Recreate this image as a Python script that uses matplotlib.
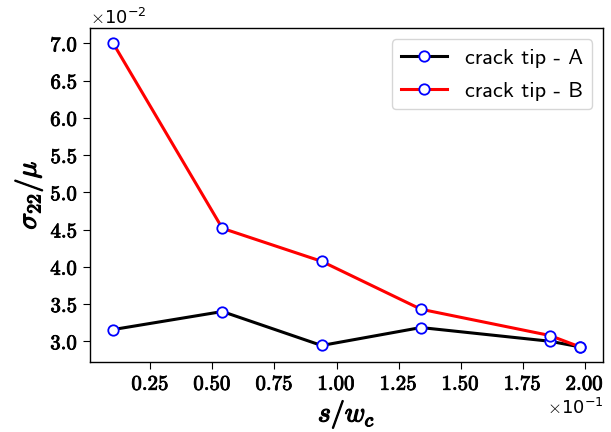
import matplotlib
matplotlib.use("Agg")
import matplotlib.pyplot as plt
import matplotlib.patheffects as pe
from matplotlib.ticker import ScalarFormatter, MultipleLocator

plt.rcParams['mathtext.fontset'] = 'cm'

# s / w_c and sigma_22 / mu at both crack tips
s_wc = [0.010, 0.054, 0.094, 0.134, 0.186, 0.198]
tip_a = [0.03157, 0.03399, 0.02943, 0.03184, 0.03000, 0.02925]
tip_b = [0.07000, 0.04516, 0.04073, 0.03430, 0.03077, 0.02925]


class BoldFormatter(ScalarFormatter):
    # bold tick labels, plain x10^n offset
    def __call__(self, x, pos=None):
        s = super().__call__(x, pos)
        return s.replace(r'\mathdefault', r'\mathbf')


def heavy(w):
    return [pe.withStroke(linewidth=w, foreground='black')]


fig = plt.figure(figsize=(6.11, 4.32), dpi=100)
ax = fig.add_subplot(111)
fig.subplots_adjust(left=0.147, right=0.987, top=0.935, bottom=0.162)

ax.plot(s_wc, tip_a, color='black', lw=2.2, marker='o', ms=7.5,
        mfc='white', mec='blue', mew=1.3, label='crack tip - A')
ax.plot(s_wc, tip_b, color='red', lw=2.2, marker='o', ms=7.5,
        mfc='white', mec='blue', mew=1.3, label='crack tip - B')

ax.xaxis.set_major_locator(MultipleLocator(0.025))
ax.yaxis.set_major_locator(MultipleLocator(0.005))
for axis in (ax.xaxis, ax.yaxis):
    fmt = BoldFormatter(useMathText=True)
    fmt.set_powerlimits((0, 0))
    axis.set_major_formatter(fmt)
    axis.get_offset_text().set_fontsize(13)

ax.tick_params(labelsize=15, length=5)
ax.set_xlabel(r'$s/w_c$', fontsize=20, path_effects=heavy(0.9))
ax.set_ylabel(r'$\sigma_{22}/\mu$', fontsize=20, path_effects=heavy(0.9))
for sp in ax.spines.values():
    sp.set_linewidth(1.0)

ax.legend(loc='upper right', handlelength=2.1, labelspacing=0.6,
          prop={'family': ['cmss10', 'DejaVu Sans'], 'size': 16})

fig.canvas.draw()
for lab in ax.get_xticklabels() + ax.get_yticklabels():
    lab.set_path_effects(heavy(0.6))

plt.savefig('out.png', dpi=100)
